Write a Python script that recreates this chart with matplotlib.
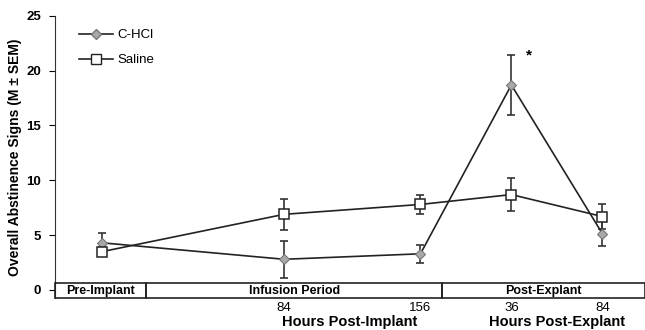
import numpy as np
import matplotlib
matplotlib.use("Agg")
from matplotlib import pyplot as plt
from matplotlib.patches import Rectangle
from matplotlib.lines import Line2D

plt.rcParams['font.family'] = ['Liberation Sans', 'DejaVu Sans']

# time points: pre-implant, 84 h, 156 h post-implant, 36 h, 84 h post-explant
x_pos = [0, 2, 3.5, 4.5, 5.5]
tick_labels = ["84", "156", "36", "84"]

chcl_mean = [4.3, 2.8, 3.3, 18.7, 5.15]
chcl_sem = [0.9, 1.7, 0.8, 2.75, 1.1]
saline_mean = [3.5, 6.9, 7.8, 8.7, 6.7]
saline_sem = [0.4, 1.4, 0.85, 1.5, 1.1]

periods = ["Pre-Implant", "Infusion Period", "Post-Explant"]
period_edges = [-0.52, 0.48, 3.74, 5.97]

fig = plt.figure(figsize=(6.45, 3.3), dpi=100)
ax = fig.add_axes([0.0853, 0.097, 0.9147, 0.855])

# error bars first, then lines + markers
ax.errorbar(x_pos, chcl_mean, yerr=chcl_sem, fmt='none', ecolor='#333333',
            elinewidth=1.2, capsize=3, capthick=1.2, zorder=2)
ax.errorbar(x_pos, saline_mean, yerr=saline_sem, fmt='none', ecolor='#333333',
            elinewidth=1.2, capsize=3, capthick=1.2, zorder=2)
ax.plot(x_pos, chcl_mean, '-', color='#222222', lw=1.2, marker='D', ms=5,
        mfc='#a8a8a8', mec='#777777', mew=0.8, zorder=3)
ax.plot(x_pos, saline_mean, '-', color='#222222', lw=1.2, marker='s', ms=6.5,
        mfc='white', mec='#222222', mew=1.1, zorder=4)

ax.text(4.69, 21.4, "*", ha='center', va='center', fontsize=11, fontweight='bold')

ax.set_xlim(-0.52, 5.97)
ax.set_ylim(-0.73, 25)
ax.set_yticks([0, 5, 10, 15, 20, 25])
ax.tick_params(axis='y', direction='out', length=4, width=0.8, labelsize=9.5, pad=6)
for lab in ax.get_yticklabels():
    lab.set_fontweight('bold')
ax.set_xticks([])
for s in ['top', 'right', 'bottom']:
    ax.spines[s].set_visible(False)
ax.spines['left'].set_color('#333333')

# period band at the bottom
for i, name in enumerate(periods):
    x0, x1 = period_edges[i], period_edges[i + 1]
    ax.add_patch(Rectangle((x0, -0.73), x1 - x0, 1.34, fill=False,
                           ec='#222222', lw=1.2, clip_on=False, zorder=5))
    ax.text((x0 + x1) / 2, -0.06, name, ha='center', va='center',
            fontsize=9, fontweight='bold')

# hour tick labels below the band
for xp, lab in zip(x_pos[1:], tick_labels):
    ax.text(xp, -1.65, lab, ha='center', va='center', fontsize=9.5)
ax.text(2.72, -2.95, "Hours Post-Implant", ha='center', va='center',
        fontsize=10.5, fontweight='bold')
ax.text(5.0, -2.95, "Hours Post-Explant", ha='center', va='center',
        fontsize=10.5, fontweight='bold')

ax.set_ylabel("Overall Abstinence Signs (M ± SEM)", fontsize=10,
              fontweight='bold', labelpad=3)

handles = [
    Line2D([], [], color='#222222', lw=1.2, marker='D', ms=5,
           mfc='#a8a8a8', mec='#777777'),
    Line2D([], [], color='#222222', lw=1.2, marker='s', ms=6.5,
           mfc='white', mec='#222222'),
]
ax.legend(handles, ["C-HCl", "Saline"], loc='upper left', frameon=False,
          fontsize=9.5, bbox_to_anchor=(0.02, 0.995), handlelength=2.6,
          labelspacing=0.95, handletextpad=0.3)

fig.savefig("out.png", dpi=100)
